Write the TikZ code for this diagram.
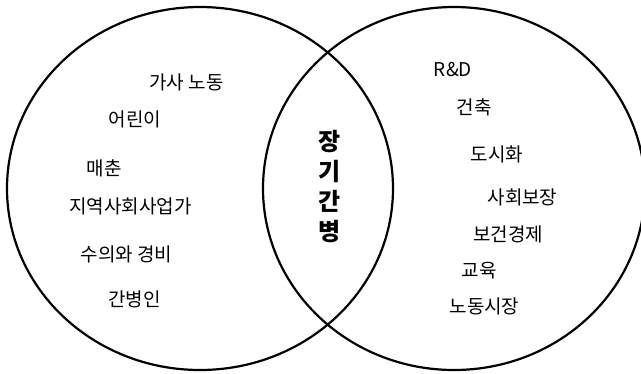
\documentclass[tikz,border=0pt]{standalone}
\usepackage{fontspec}
\setmainfont{Noto Sans CJK KR}
\begin{document}
\begin{tikzpicture}[x=1pt,y=-1pt,
  lbl/.style={font=\fontsize{19}{22}\selectfont, inner sep=0pt, anchor=center},
  core/.style={font=\fontsize{24}{30}\selectfont\bfseries, align=center, inner sep=0pt},
  ring/.style={draw=black, line width=2.2pt}]
\useasboundingbox (0,0) rectangle (641,373);
\fill[white] (0,0) rectangle (641,373);
\clip (0,0) rectangle (641,373);
\draw[ring] (200,188.5) ellipse [x radius=193pt, y radius=181.5pt];
\draw[ring] (454,188.5) ellipse [x radius=191pt, y radius=181.5pt];
% left set
\node[lbl] (l1) at (186.5,82) {가사 노동};
\node[lbl] (l2) at (135,119) {어린이};
\node[lbl] (l3) at (104,168) {매춘};
\node[lbl] (l4) at (130.5,206) {지역사회사업가};
\node[lbl] (l5) at (126.5,254) {수의와 경비};
\node[lbl] (l6) at (134.5,299) {간병인};
% right set
\node[lbl] (r1) at (453,70) {R\&D};
\node[lbl] (r2) at (474,107) {건축};
\node[lbl] (r3) at (497,154) {도시화};
\node[lbl] (r4) at (522.5,197) {사회보장};
\node[lbl] (r5) at (508,234) {보건경제};
\node[lbl] (r6) at (479,271) {교육};
\node[lbl] (r7) at (484.5,306) {노동시장};
% intersection
\node[core] (c) at (330,187) {장\\기\\간\\병};
\end{tikzpicture}
\end{document}
